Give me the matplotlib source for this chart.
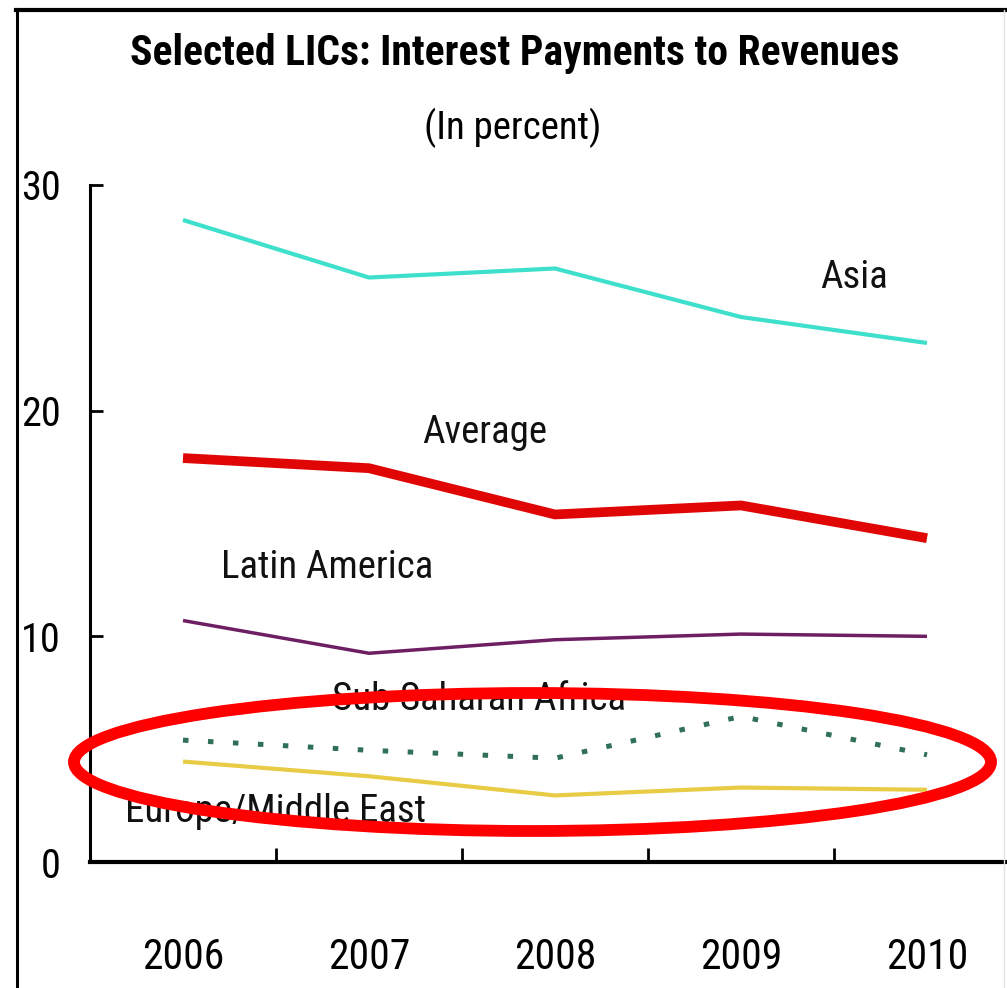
import matplotlib
matplotlib.use("Agg")
import matplotlib.pyplot as plt
from matplotlib import font_manager
from matplotlib.patches import Ellipse
from matplotlib.lines import Line2D

years = ["2006", "2007", "2008", "2009", "2010"]
asia = [28.45, 25.9, 26.3, 24.15, 23.0]
average = [17.9, 17.45, 15.4, 15.8, 14.35]
latin_america = [10.7, 9.25, 9.85, 10.1, 10.0]
sub_saharan_africa = [5.4, 4.95, 4.6, 6.45, 4.75]
europe_middle_east = [4.45, 3.8, 2.95, 3.3, 3.2]
y_ticks = [0, 10, 20, 30]

# pick a narrow sans face if one is installed
available = {f.name for f in font_manager.fontManager.ttflist}
family = "Liberation Sans"
for cand in ["Liberation Sans Narrow", "Arial Narrow", "Roboto Condensed",
             "Open Sans Condensed", "Liberation Sans"]:
    if cand in available:
        family = cand
        break
plt.rcParams["font.family"] = [family, "DejaVu Sans"]

W, H = 1007, 988
fig = plt.figure(figsize=(W / 100, H / 100), dpi=100)
fig.patch.set_facecolor("white")

def fx(px):
    return px / W

def fy(py):
    return 1 - py / H

ax = fig.add_axes([fx(90), fy(862), 930 / W, (862 - 185) / H])
x = list(range(len(years)))

ax.plot(x, asia, color="#3ee0cc", lw=3.0, solid_capstyle="butt", zorder=3)
ax.plot(x, average, color="#e00606", lw=7.0, solid_capstyle="butt", zorder=3)
ax.plot(x, latin_america, color="#6e1f63", lw=2.5, solid_capstyle="butt", zorder=3)
ax.plot(x, sub_saharan_africa, color="#2f7057", lw=3.6, dashes=(1.1, 3.9), zorder=3)
ax.plot(x, europe_middle_east, color="#e8cc45", lw=3.0, solid_capstyle="butt", zorder=3)

ax.set_xlim(-0.5, 4.5)
ax.set_ylim(0, 30)
for s in ["top", "right"]:
    ax.spines[s].set_visible(False)
ax.spines["left"].set_linewidth(2.2)
ax.spines["bottom"].set_linewidth(3.0)

ax.set_yticks(y_ticks)
ax.set_yticklabels([str(v) for v in y_ticks])
ax.tick_params(axis="y", direction="in", length=9, width=2, pad=21, labelsize=29)

ax.set_xticks([0.5, 1.5, 2.5, 3.5])
ax.set_xticklabels([])
ax.set_xticks(x, minor=True)
ax.set_xticklabels(years, minor=True)
ax.tick_params(axis="x", which="major", direction="in", length=10, width=2)
ax.tick_params(axis="x", which="minor", length=0, pad=54, labelsize=30)

lab = dict(fontsize=28, ha="center", va="center", color="#111111")
ax.text(3.607, 25.9, "Asia", **lab)
ax.text(1.624, 19.05, "Average", **lab)
ax.text(0.774, 13.07, "Latin America", **lab)
ax.text(1.591, 7.18, "Sub-Saharan Africa", **lab)
ax.text(0.495, 2.22, "Europe/Middle East", **lab)

fig.text(fx(515), fy(54), "Selected LICs: Interest Payments to Revenues",
         fontsize=30, fontweight="bold", ha="center", va="center")
fig.text(fx(513), fy(128), "(In percent)", fontsize=28, ha="center", va="center")

# highlight ring around the two lowest series
fig.patches.append(Ellipse((fx(532.5), fy(762)), 917 / W, 138 / H,
                           transform=fig.transFigure, fill=False,
                           edgecolor="#ff0000", lw=8.5, zorder=10))

# outer frame
fig.add_artist(Line2D([fx(17), fx(17)], [0, fy(9)], color="black", lw=2.2,
                      transform=fig.transFigure))
fig.add_artist(Line2D([fx(16), 1], [fy(10), fy(10)], color="black", lw=3,
                      transform=fig.transFigure))
fig.add_artist(Line2D([fx(1004), fx(1004)], [0, fy(10)], color="#e4e4e4", lw=1,
                      transform=fig.transFigure))

fig.savefig("out.png", dpi=100, facecolor="white")
